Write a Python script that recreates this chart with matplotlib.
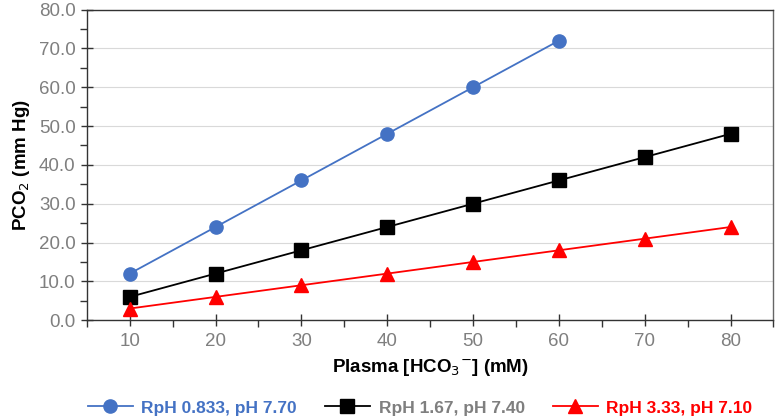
import matplotlib
matplotlib.use("Agg")
import matplotlib.pyplot as plt
from matplotlib.ticker import MultipleLocator

plt.rcParams['font.family'] = ['Liberation Sans', 'DejaVu Sans']

# Plasma bicarbonate (mM) and PCO2 (mm Hg) for three RpH values
hco3_a = [10, 20, 30, 40, 50, 60]
pco2_a = [12, 24, 36, 48, 60, 72]
hco3_b = [10, 20, 30, 40, 50, 60, 70, 80]
pco2_b = [6, 12, 18, 24, 30, 36, 42, 48]
hco3_c = [10, 20, 30, 40, 50, 60, 70, 80]
pco2_c = [3, 6, 9, 12, 15, 18, 21, 24]
labels = ["RpH 0.833, pH 7.70", "RpH 1.67, pH 7.40", "RpH 3.33, pH 7.10"]

blue = "#4472C4"
red = "#FF0000"

fig = plt.figure(figsize=(7.75, 4.18), dpi=100)
ax = fig.add_axes([0.112, 0.234, 0.886, 0.743])

ax.plot(hco3_a, pco2_a, color=blue, marker="o", markersize=9.5, lw=1.3, label=labels[0])
ax.plot(hco3_b, pco2_b, color="black", marker="s", markersize=9.5, lw=1.3, label=labels[1])
ax.plot(hco3_c, pco2_c, color=red, marker="^", markersize=10, lw=1.3, label=labels[2])

ax.set_xlim(5, 85)
ax.set_ylim(0, 80)
ax.xaxis.set_major_locator(MultipleLocator(10))
ax.xaxis.set_minor_locator(MultipleLocator(5))
ax.yaxis.set_major_locator(MultipleLocator(10))
ax.yaxis.set_minor_locator(MultipleLocator(5))
ax.yaxis.set_major_formatter(lambda v, p: f"{v:.1f}")
ax.grid(axis="y", which="major", color="#d9d9d9", lw=0.8)
ax.set_axisbelow(True)

ax.tick_params(which="major", direction="inout", length=9, width=1, colors="#333333",
               labelcolor="#7f7f7f", labelsize=13.5)
ax.tick_params(axis="x", which="major", pad=5)
ax.tick_params(which="minor", direction="out", length=5, width=1, colors="#333333")
for s in ax.spines.values():
    s.set_color("#333333")
    s.set_linewidth(1)
ax.spines["right"].set_color("#666666")

ax.set_xlabel("Plasma [HCO$_3$$^{-}$] (mM)", fontsize=13.5, fontweight="bold", labelpad=5)
ax.set_ylabel("PCO$_2$ (mm Hg)", fontsize=13.5, fontweight="bold", labelpad=5)

leg = fig.legend(loc="center", bbox_to_anchor=(0.542, 0.024), ncol=3, frameon=False,
                 handlelength=2.6, columnspacing=1.6, handletextpad=0.5,
                 prop={"weight": "bold", "size": 12.5})
for txt, c in zip(leg.get_texts(), [blue, "#7f7f7f", red]):
    txt.set_color(c)

fig.savefig("out.png", dpi=100)
